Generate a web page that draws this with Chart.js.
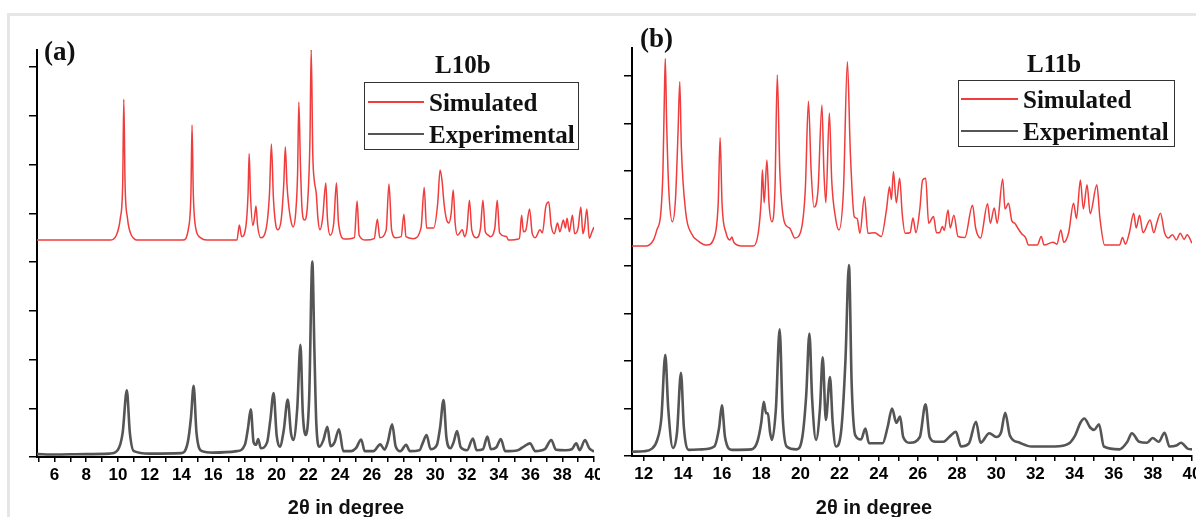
<!DOCTYPE html>
<html>
<head>
<meta charset="utf-8">
<script src="https://cdn.jsdelivr.net/npm/chart.js@4.4.1/dist/chart.umd.min.js"></script>
<style>
  html, body { margin:0; padding:0; background:#fff; width:1196px; height:517px; overflow:hidden; }
  #frame { position:absolute; left:7px; top:13px; width:1200px; height:520px; border-left:3px solid #e6e6e6; border-top:3px solid #e6e6e6; }
  canvas { position:absolute; top:0; }
  .serif { position:absolute; font-family:'Liberation Serif','Times New Roman',serif; font-weight:bold; color:#111; white-space:nowrap; line-height:1; }
  .xtitle { position:absolute; font-family:'Liberation Sans',Arial,sans-serif; font-weight:bold; font-size:20px; color:#111; white-space:nowrap; line-height:1; transform:translate(-50%,-50%); }
  .legend { position:absolute; border:1.5px solid #333; background:#fff; }
  .lrow { position:absolute; left:0; height:2px; }
  .ltext { position:absolute; font-family:'Liberation Serif','Times New Roman',serif; font-weight:bold; font-size:25px; color:#111; white-space:nowrap; line-height:1; transform:translateY(-50%); }
</style>
</head>
<body>
<div id="frame"></div>
<canvas id="ca" width="600" height="517" style="left:0px"></canvas>
<canvas id="cb" width="596" height="517" style="left:600px"></canvas>

<div class="serif" style="left:44px; top:38px; font-size:27px;">(a)</div>
<div class="serif" style="left:640px; top:25px; font-size:27px;">(b)</div>
<div class="serif" style="left:435px; top:52px; font-size:25px;">L10b</div>
<div class="serif" style="left:1027px; top:51px; font-size:25px;">L11b</div>

<div class="legend" style="left:364px; top:82px; width:213px; height:66px;">
  <div class="lrow" style="top:18px; left:3px; width:56px; background:#f03c3c; height:1.5px;"></div>
  <div class="ltext" style="top:19px; left:64px;">Simulated</div>
  <div class="lrow" style="top:50px; left:3px; width:56px; background:#555; height:2px;"></div>
  <div class="ltext" style="top:51px; left:64px;">Experimental</div>
</div>
<div class="legend" style="left:958px; top:80px; width:215px; height:65px;">
  <div class="lrow" style="top:17px; left:2px; width:57px; background:#f03c3c; height:1.5px;"></div>
  <div class="ltext" style="top:18px; left:64px;">Simulated</div>
  <div class="lrow" style="top:49px; left:2px; width:57px; background:#555; height:2px;"></div>
  <div class="ltext" style="top:50px; left:64px;">Experimental</div>
</div>

<div class="xtitle" style="left:346px; top:507px;">2θ in degree</div>
<div class="xtitle" style="left:874px; top:507px;">2θ in degree</div>

<script>
// ---- Data: [2θ (degree), intensity (a.u., 100 per y tick)] ----
const seriesNames = ['Simulated', 'Experimental'];

const aSimulated = [
[4.9,445],[9.5,445],[9.9,455],[10.15,490],[10.3,560],[10.37,734],[10.45,560],[10.6,490],[10.85,455],[11.3,445],
[14.1,445],[14.45,470],[14.6,540],[14.67,681],[14.75,540],[14.9,470],[15.2,450],[15.6,445],
[17.5,445],[17.65,476],[17.8,452],[18.05,470],[18.2,540],[18.27,622],[18.35,540],[18.5,475],[18.6,490],[18.7,515],[18.8,475],[19.0,450],
[19.35,470],[19.55,540],[19.67,642],[19.8,530],[19.95,475],[20.08,466],[20.3,490],[20.45,560],[20.55,636],[20.65,560],[20.75,520],[20.9,485],
[21.04,472],[21.2,500],[21.32,580],[21.4,728],[21.5,600],[21.6,510],[21.75,486],[21.95,520],[22.1,650],[22.18,837],[22.28,620],[22.37,568],
[22.5,540],[22.6,490],[22.73,466],[22.9,490],[23.1,562],[23.2,490],[23.38,455],[23.6,480],[23.77,562],[23.9,480],[24.28,447],
[24.9,450],[25.07,525],[25.2,455],[25.6,445],[26.15,448],[26.35,488],[26.5,450],[26.9,465],[27.08,560],[27.25,465],[27.5,450],
[27.85,452],[28.02,498],[28.15,452],[28.6,448],[29.1,470],[29.3,553],[29.45,470],[29.9,470],[30.15,520],[30.3,589],[30.42,568],
[30.55,520],[30.7,488],[30.85,480],[31.0,500],[31.13,548],[31.25,480],[31.4,455],[31.7,466],[31.85,452],[32.0,470],[32.15,527],
[32.3,465],[32.6,450],[32.85,470],[33.0,527],[33.15,462],[33.35,455],[33.45,452],[33.75,470],[33.9,527],[34.05,460],[34.5,452],
[34.6,445],[35.3,448],[35.44,496],[35.55,462],[35.7,465],[35.94,509],[36.1,460],[36.3,450],[36.6,466],[36.75,460],[36.96,513],
[37.15,523],[37.3,475],[37.5,458],[37.7,480],[37.85,462],[38.07,486],[38.2,470],[38.3,490],[38.45,462],[38.64,496],[38.78,458],
[39.0,470],[39.17,513],[39.3,458],[39.4,470],[39.55,509],[39.7,449],[39.85,460],[40.0,472]
];

const aExperimental = [
[4.9,6],[6,5],[8,6],[9.5,7],[10.0,15],[10.3,50],[10.56,137],[10.75,50],[11.0,12],[12,7],
[14.0,8],[14.4,30],[14.6,80],[14.77,146],[14.95,50],[15.3,12],[16,9],[17.5,12],[18.0,25],[18.2,60],[18.37,98],[18.55,30],
[18.7,25],[18.84,37],[19.0,18],[19.4,30],[19.6,75],[19.81,131],[20.0,45],[20.2,21],[20.45,55],[20.7,118],[20.9,50],[21.05,35],
[21.3,100],[21.5,230],[21.65,90],[21.83,45],[22.05,120],[22.25,401],[22.38,220],[22.5,70],[22.7,21],[22.95,35],[23.2,62],[23.4,22],
[23.65,30],[23.93,57],[24.2,12],[24.7,12],[25.0,18],[25.33,36],[25.55,12],[26.1,12],[26.53,26],[26.8,15],[27.0,30],[27.28,67],
[27.5,22],[27.8,12],[28.16,25],[28.4,12],[29.0,14],[29.2,28],[29.45,45],[29.7,16],[30.1,25],[30.3,60],[30.52,117],[30.7,40],
[30.95,18],[31.15,30],[31.37,53],[31.6,20],[32.0,14],[32.37,38],[32.6,14],[33.0,16],[33.28,42],[33.5,16],[33.85,20],[34.13,37],
[34.4,12],[35.2,14],[35.6,22],[35.97,28],[36.3,12],[36.9,16],[37.31,35],[37.6,15],[38.2,14],[38.6,16],[38.88,28],[39.1,14],
[39.43,35],[39.7,18],[40.0,11]
];

const bSimulated = [
[11.4,442],[12.1,442],[12.5,455],[12.67,476],[12.87,511],[12.98,600],[13.05,750],[13.1,837],[13.17,700],[13.28,560],[13.46,493],
[13.62,540],[13.75,680],[13.84,788],[13.92,650],[14.15,511],[14.43,469],[14.8,452],[15.22,444],[15.6,460],[15.8,530],[15.9,670],
[16.0,530],[16.2,470],[16.4,455],[16.5,461],[16.6,450],[17.0,442],[17.6,442],[17.85,470],[18.0,540],[18.06,602],[18.15,533],
[18.29,623],[18.4,530],[18.54,493],[18.7,560],[18.82,802],[18.95,600],[19.2,490],[19.45,480],[19.72,459],[20.0,470],[20.25,560],
[20.41,747],[20.55,600],[20.69,524],[20.9,560],[21.1,739],[21.2,600],[21.3,533],[21.48,722],[21.6,580],[21.8,500],[21.97,476],
[22.2,560],[22.4,830],[22.55,640],[22.75,504],[22.9,500],[23.04,469],[23.27,546],[23.45,469],[23.8,470],[24.13,462],[24.4,520],
[24.55,567],[24.65,540],[24.75,599],[24.9,533],[25.07,585],[25.2,510],[25.35,469],[25.6,470],[25.75,501],[25.9,470],[26.1,520],
[26.24,581],[26.4,585],[26.55,490],[26.8,504],[26.95,470],[27.1,470],[27.25,483],[27.35,475],[27.54,518],[27.65,480],[27.84,507],
[28.05,462],[28.4,460],[28.79,528],[28.95,480],[29.2,459],[29.56,531],[29.7,490],[29.9,522],[30.05,490],[30.33,583],[30.45,520],
[30.63,532],[30.8,495],[30.95,490],[31.1,480],[31.3,468],[31.5,460],[31.65,444],[32.1,444],[32.3,462],[32.45,444],[32.9,450],
[33.1,446],[33.3,476],[33.45,450],[33.7,470],[33.95,532],[34.1,500],[34.3,581],[34.45,520],[34.64,571],[34.8,510],[35.14,571],
[35.3,500],[35.54,444],[36.3,444],[36.45,460],[36.6,446],[36.8,470],[37.02,511],[37.15,480],[37.32,507],[37.5,470],[37.86,497],
[38.05,470],[38.2,490],[38.39,511],[38.6,470],[38.8,459],[39.0,466],[39.2,455],[39.4,469],[39.6,456],[39.75,466],[40.0,448]
];

const bExperimental = [
[11.4,9],[12.0,10],[12.4,15],[12.69,34],[12.9,80],[13.1,213],[13.25,100],[13.49,17],[13.7,50],[13.9,175],[14.05,60],[14.3,13],
[15.0,14],[15.6,20],[15.85,60],[15.99,107],[16.15,40],[16.5,13],[17.5,14],[17.8,30],[18.0,70],[18.13,114],[18.25,90],[18.34,90],
[18.45,50],[18.55,34],[18.75,100],[18.94,267],[19.1,80],[19.3,20],[19.8,14],[20.1,40],[20.3,130],[20.46,258],[20.6,120],[20.8,34],
[21.0,100],[21.14,208],[21.3,76],[21.51,166],[21.65,70],[21.82,20],[22.1,60],[22.3,200],[22.48,402],[22.62,150],[22.8,44],[23.1,35],
[23.32,58],[23.5,27],[24.2,27],[24.45,60],[24.68,100],[24.9,70],[25.09,83],[25.25,40],[25.6,28],[26.1,40],[26.39,109],[26.6,40],
[26.9,30],[27.3,30],[27.7,44],[27.94,51],[28.2,20],[28.6,26],[28.97,72],[29.2,28],[29.65,48],[30.0,40],[30.25,50],[30.46,91],
[30.7,43],[31.2,28],[31.8,20],[33.0,20],[33.7,26],[34.04,44],[34.3,70],[34.5,79],[34.8,60],[35.0,55],[35.25,67],[35.5,20],
[36.3,14],[36.7,30],[36.93,48],[37.3,30],[37.7,28],[37.99,38],[38.3,30],[38.6,49],[38.85,20],[39.2,22],[39.44,28],[39.8,15],[40.0,14]
];

// axis ranges
const aXRange = [4.9, 40];
const bXRange = [11.4, 40];
const aYRange = [0, 835];
const bYRange = [0, 859];

const toXY = arr => arr.map(p => ({x: p[0], y: p[1]}));

function makeChart(id, sim, exp, xr, yr, geom) {
  const ctx = document.getElementById(id).getContext('2d');
  return new Chart(ctx, {
    type: 'line',
    data: {
      datasets: [
        { label: seriesNames[1], data: toXY(exp), borderColor: '#555555', borderWidth: 2.6, pointRadius: 0, cubicInterpolationMode: 'monotone', fill: false },
        { label: seriesNames[0], data: toXY(sim), borderColor: '#f03c3c', borderWidth: 1.5, pointRadius: 0, cubicInterpolationMode: 'monotone', fill: false }
      ]
    },
    options: {
      responsive: false,
      maintainAspectRatio: false,
      animation: false,
      devicePixelRatio: 1,
      layout: { padding: { left: 0, right: geom.right, top: geom.top, bottom: geom.bottom } },
      plugins: { legend: { display: false }, tooltip: { enabled: false }, title: { display: false } },
      scales: {
        x: {
          type: 'linear', min: xr[0], max: xr[1],
          border: { display: true, color: '#000', width: 2 },
          grid: { drawOnChartArea: false, drawTicks: true, tickLength: 5, color: '#000', lineWidth: 1.5 },
          ticks: {
            stepSize: 1, includeBounds: false, autoSkip: false, maxRotation: 0, padding: 3,
            color: '#000', font: { family: "'Liberation Sans', Arial, sans-serif", weight: 'bold', size: 17 },
            callback: v => (Math.round(v) % 2 === 0 ? String(Math.round(v)) : '')
          },
          afterFit: s => { s.height = 40; s.paddingLeft = 0; s.paddingRight = 0; }
        },
        y: {
          type: 'linear', min: yr[0], max: yr[1],
          border: { display: true, color: '#000', width: 2 },
          grid: { drawOnChartArea: false, drawTicks: true, tickLength: 8, color: '#000', lineWidth: 1.5 },
          ticks: { display: false, stepSize: 100, includeBounds: false },
          afterFit: s => { s.width = geom.left; s.paddingTop = 0; s.paddingBottom = 0; }
        }
      }
    }
  });
}

makeChart('ca', aSimulated, aExperimental, aXRange, aYRange, { left: 37, right: 6, top: 50, bottom: 20 });
makeChart('cb', bSimulated, bExperimental, bXRange, bYRange, { left: 32, right: 4, top: 48, bottom: 21 });
</script>
</body>
</html>
